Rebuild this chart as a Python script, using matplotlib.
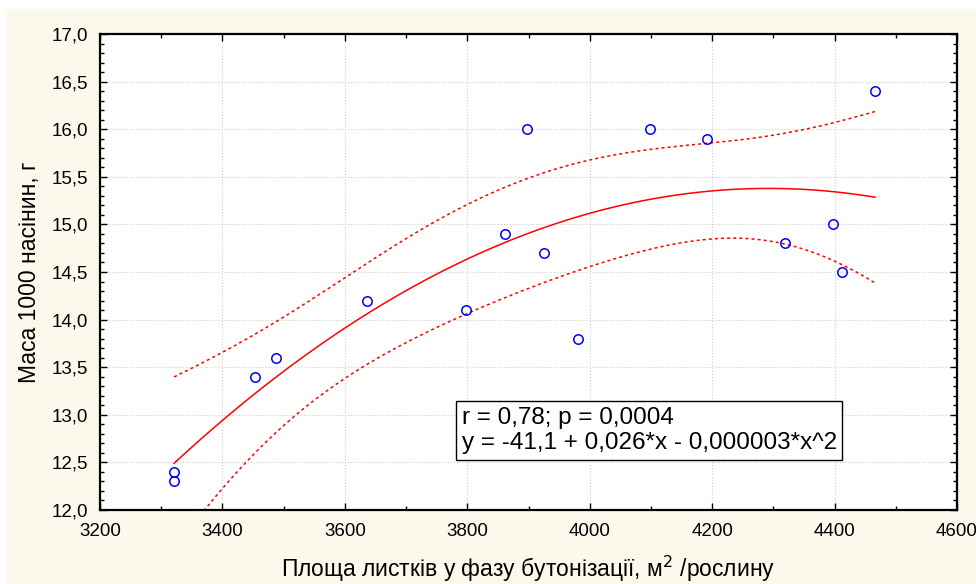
import numpy as np
import matplotlib.pyplot as plt
from matplotlib.ticker import MultipleLocator, FuncFormatter
from matplotlib.patches import Rectangle

plt.rcParams['font.family'] = ['Liberation Sans', 'DejaVu Sans']

# leaf area (m2/plant) and 1000-seed weight (g)
leaf_area = [3321, 3321, 3453, 3488, 3636, 3798, 3862, 3898, 3925, 3981,
             4099, 4192, 4319, 4398, 4412, 4466]
seed_mass = [12.4, 12.3, 13.4, 13.6, 14.2, 14.1, 14.9, 16.0, 14.7, 13.8,
             16.0, 15.9, 14.8, 15.0, 14.5, 16.4]

x = np.array(leaf_area, dtype=float)
y = np.array(seed_mass)

# quadratic fit with 95% confidence band of the mean
X = np.column_stack([np.ones_like(x), x, x ** 2])
beta, *_ = np.linalg.lstsq(X, y, rcond=None)
resid = y - X @ beta
n, k = X.shape
s2 = resid @ resid / (n - k)
cov = s2 * np.linalg.inv(X.T @ X)
xs = np.linspace(x.min(), x.max(), 200)
Xs = np.column_stack([np.ones_like(xs), xs, xs ** 2])
fit = Xs @ beta
se = np.sqrt(np.einsum('ij,jk,ik->i', Xs, cov, Xs))
t = 2.16  # t(0.975, 13)

fig = plt.figure(figsize=(9.76, 5.84), dpi=100)
fig.patches.append(Rectangle((7 / 976, 0), 1, 1 - 9 / 584, transform=fig.transFigure,
                             facecolor='#fdf8ec', edgecolor='none', zorder=-10))
ax = fig.add_axes([100 / 976, (584 - 510) / 584, 857 / 976, 476 / 584])

ax.plot(xs, fit, color='red', lw=1.1)
ax.plot(xs, fit + t * se, color='red', lw=1.1, ls=(0, (2, 2)))
ax.plot(xs, fit - t * se, color='red', lw=1.1, ls=(0, (2, 2)))
ax.plot(x, y, 'o', mfc='none', mec='blue', ms=6.8, mew=1.1, zorder=5)

ax.set_xlim(3200, 4600)
ax.set_ylim(12, 17)
ax.xaxis.set_major_locator(MultipleLocator(200))
ax.xaxis.set_minor_locator(MultipleLocator(100))
ax.yaxis.set_major_locator(MultipleLocator(0.5))
ax.yaxis.set_minor_locator(MultipleLocator(0.1))
ax.yaxis.set_major_formatter(FuncFormatter(lambda v, p: f'{v:.1f}'.replace('.', ',')))
ax.tick_params(which='both', direction='in', top=True, right=True, labelsize=13.5)
ax.tick_params(which='major', length=5, width=1)
ax.tick_params(which='minor', length=3, width=1)
ax.tick_params(axis='x', pad=9)
ax.tick_params(axis='y', pad=8.5)
ax.grid(True, which='major', color='#cccccc', ls=':', lw=0.8)
for sp in ax.spines.values():
    sp.set_linewidth(1.6)

ax.set_xlabel('Площа листків у фазу бутонізації, м$^2$ /рослину', fontsize=16.5, labelpad=10)
ax.set_ylabel('Маса 1000 насінин, г', fontsize=16.5, labelpad=8)

ax.text(0.422, 0.167, 'r = 0,78; p = 0,0004\ny = -41,1 + 0,026*x - 0,000003*x^2',
        transform=ax.transAxes, fontsize=17.5, va='center', ha='left', linespacing=1.22,
        bbox=dict(boxstyle='square,pad=0.22', facecolor='white', edgecolor='black', lw=1))

fig.savefig('out.png', dpi=100)
